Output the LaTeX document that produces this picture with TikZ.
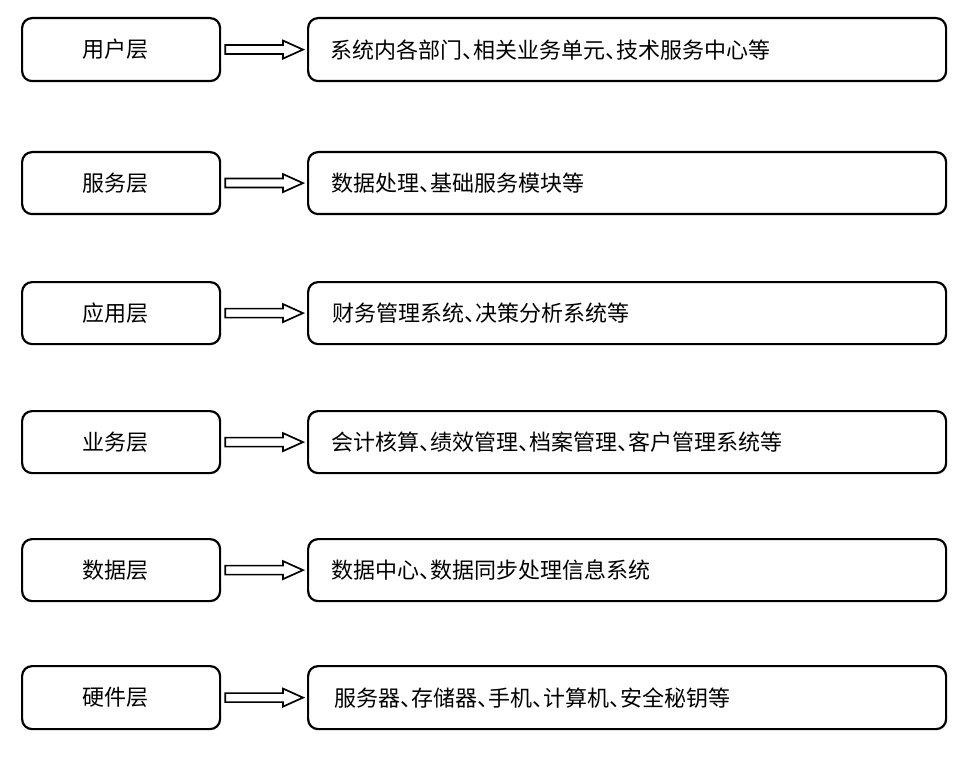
\documentclass[tikz,border=0pt]{standalone}
\usepackage{fontspec}
\setmainfont[RawFeature=+halt]{Noto Sans CJK SC}
\usetikzlibrary{calc}
\tikzset{
  layerbox/.style={draw=black, line width=2.2pt, rounded corners=10pt, fill=white},
  layertext/.style={font=\fontsize{22}{26}\selectfont, inner sep=0pt, anchor=center},
  desctext/.style={font=\fontsize{22}{26}\selectfont, inner sep=0pt, anchor=west},
  hollowarrow/.style={draw=black, line width=1.7pt, fill=white, line join=miter}
}
\begin{document}
\begin{tikzpicture}[x=1pt, y=-1pt]
\useasboundingbox (0,0) rectangle (960,767);
\fill[white] (0,0) rectangle (960,767);
\foreach \i/\top/\bot/\lname/\desc/\ins in {
  1/17/80/用户层/系统内各部门、相关业务单元、技术服务中心等/23,
  2/151/213/服务层/数据处理、基础服务模块等/24,
  3/281/343/应用层/财务管理系统、决策分析系统等/25,
  4/410/472/业务层/会计核算、绩效管理、档案管理、客户管理系统等/24,
  5/538/600/数据层/数据中心、数据同步处理信息系统/24,
  6/665/728/硬件层/服务器、存储器、手机、计算机、安全秘钥等/27}{
  \node[layerbox, minimum width=198pt, minimum height={\bot-\top}, anchor=north west, inner sep=0pt] (L\i) at (21,\top) {};
  \node[layerbox, minimum width=638pt, minimum height={\bot-\top}, anchor=north west, inner sep=0pt] (R\i) at (307,\top) {};
  \node[layertext] (LT\i) at ($(L\i.center)+(-6,0)$) {\lname};
  \node[desctext] (RT\i) at ($(R\i.west)+(\ins,0)$) {\desc};
  \draw[hollowarrow] ($(L\i.east)+(4,-4.5)$) -- ($(R\i.west)+(-24,-4.5)$) -- ($(R\i.west)+(-24,-9)$)
     -- ($(R\i.west)+(-4,0)$) -- ($(R\i.west)+(-24,9)$) -- ($(R\i.west)+(-24,4.5)$)
     -- ($(L\i.east)+(4,4.5)$) -- cycle;
}
\end{tikzpicture}
\end{document}
